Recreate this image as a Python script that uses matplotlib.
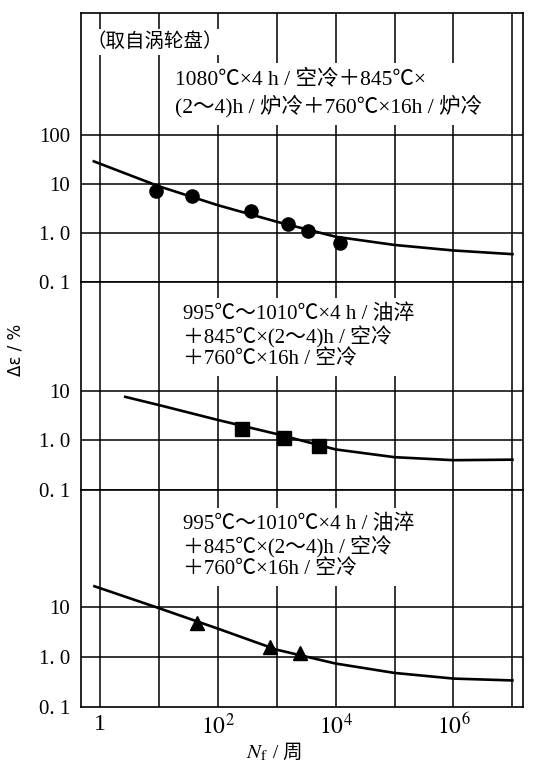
import matplotlib
matplotlib.use('Agg')
import matplotlib.pyplot as plt
import numpy as np

plt.rcParams['font.family'] = ['Liberation Serif', 'Noto Sans CJK SC']
plt.rcParams['mathtext.fontset'] = 'stix'

# ---- data ----
# top panel: circles + fitted curve
pts1_n = [9, 36, 360, 1560, 3380, 11800]
pts1_e = [7.1, 5.6, 2.85, 1.56, 1.08, 0.63]
crv1_n = [0.79, 10, 100, 1e3, 1e4, 1e5, 1e6, 1e7]
crv1_e = [29, 9.0, 3.7, 1.7, 0.84, 0.57, 0.44, 0.37]

# middle panel: squares
pts2_n = [263, 1320, 5300]
pts2_e = [1.74, 1.12, 0.76]
crv2_n = [2.7, 10, 100, 1e3, 1e4, 1e5, 1e6, 1e7]
crv2_e = [7.6, 5.2, 2.6, 1.35, 0.66, 0.46, 0.40, 0.41]

# bottom panel: triangles
pts3_n = [44, 760, 2450]
pts3_e = [4.7, 1.6, 1.21]
crv3_n = [0.81, 10, 100, 1e3, 1e4, 1e5, 1e6, 1e7]
crv3_e = [26, 9.5, 3.7, 1.4, 0.74, 0.48, 0.37, 0.34]

ytick_top = [0.1, 1, 10, 100]
ytick_low = [0.1, 1, 10]
ytick_lab = ['0. 1', '1. 0', '10', '100']
xtick_pos = [1, 1e2, 1e4, 1e6]
xtick_lab = ['1', '$10^2$', '$10^4$', '$10^6$']

txt1 = '1080℃×4 h / 空冷＋845℃×\n(2～4)h / 炉冷＋760℃×16h / 炉冷'
txt2 = '995℃～1010℃×4 h / 油淬\n＋845℃×(2～4)h / 空冷\n＋760℃×16h / 空冷'

W, H = 534, 774
fig = plt.figure(figsize=(W / 100, H / 100), dpi=100)

L, R = 81, 523
panels = [(13, 282, 10 ** 4.49), (282, 490, 10 ** 3.20), (490, 707, 10 ** 3.34)]
axs = []
for top, bot, ymax in panels:
    ax = fig.add_axes([L / W, (H - bot) / H, (R - L) / W, (bot - top) / H])
    ax.set_xscale('log')
    ax.set_yscale('log')
    ax.set_xlim(10 ** -0.32, 10 ** 7.18)
    ax.set_ylim(0.1, ymax)
    ax.minorticks_off()
    for n in range(8):
        ax.axvline(10.0 ** n, color='k', lw=1.1, zorder=1)
    for s in ax.spines.values():
        s.set_linewidth(1.2)
    ax.tick_params(length=0, labelsize=15, pad=8)
    axs.append(ax)

for ax, yt in zip(axs, [ytick_top, ytick_low, ytick_low]):
    ax.set_yticks(yt)
    ax.set_yticklabels(ytick_lab[:len(yt)])
    for v in yt[1:]:
        ax.axhline(v, color='k', lw=1.1, zorder=1)

axs[0].set_xticks([])
axs[1].set_xticks([])
axs[2].set_xticks(xtick_pos)
axs[2].set_xticklabels(xtick_lab, fontsize=17)
axs[2].tick_params(axis='x', pad=5)

ms_kw = dict(color='k', zorder=4)
axs[0].plot(crv1_n, crv1_e, 'k-', lw=1.9, zorder=3)
axs[0].plot(pts1_n, pts1_e, 'o', ms=9.5, **ms_kw)
axs[1].plot(crv2_n, crv2_e, 'k-', lw=1.9, zorder=3)
axs[1].plot(pts2_n, pts2_e, 's', ms=9.5, **ms_kw)
axs[2].plot(crv3_n, crv3_e, 'k-', lw=1.9, zorder=3)
axs[2].plot(pts3_n, pts3_e, '^', ms=10.5, **ms_kw)

box = dict(facecolor='white', edgecolor='none', pad=5)
fig.text(86 / W, 1 - 42 / H, '（取自涡轮盘）', fontsize=14, va='center', ha='left',
         bbox=dict(facecolor='white', edgecolor='none', pad=3), zorder=5)
fig.text(175 / W, 1 - 94 / H, txt1, fontsize=15.5, va='center', ha='left',
         linespacing=1.3, bbox=box, zorder=5)
fig.text(183 / W, 1 - 337 / H, txt2, fontsize=15, va='center', ha='left',
         linespacing=1.12, bbox=box, zorder=5)
fig.text(183 / W, 1 - 547 / H, txt2, fontsize=15, va='center', ha='left',
         linespacing=1.12, bbox=box, zorder=5)

fig.text(15 / W, 1 - 350 / H, 'Δε / %', rotation=90, fontsize=12,
         ha='center', va='center', family=['DejaVu Sans'])
fig.text(268 / W, 1 - 753 / H, '$N_{\\mathrm{f}}$', fontsize=15,
         ha='right', va='center')
fig.text(268 / W, 1 - 753 / H, ' / 周', fontsize=14,
         ha='left', va='center')

fig.savefig('out.png', dpi=100)
